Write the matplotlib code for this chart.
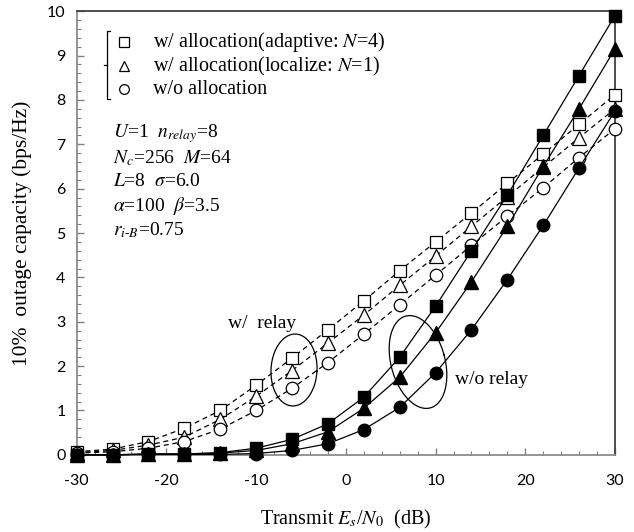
import numpy as np
import matplotlib
matplotlib.use("Agg")
import matplotlib.pyplot as plt
from matplotlib.ticker import MultipleLocator

plt.rcParams['mathtext.fontset'] = 'stix'
plt.rcParams['font.family'] = ['Liberation Serif', 'DejaVu Serif']
plt.rcParams['axes.unicode_minus'] = False

# transmit Es/N0 (dB)
snr = [-30, -26, -22, -18, -14, -10, -6, -2, 2, 6, 10, 14, 18, 22, 26, 30]

# w/o relay (solid lines, filled markers)
norelay_adaptive = [0.0, 0.0, 0.02, 0.02, 0.05, 0.15, 0.35, 0.7, 1.3, 2.2, 3.35, 4.6, 5.85, 7.2, 8.55, 9.9]
norelay_localize = [0.0, 0.0, 0.02, 0.02, 0.04, 0.1, 0.25, 0.52, 1.05, 1.75, 2.75, 3.9, 5.15, 6.5, 7.8, 9.15]
norelay_noalloc = [0.0, 0.0, 0.01, 0.01, 0.01, 0.03, 0.1, 0.25, 0.57, 1.07, 1.85, 2.82, 3.95, 5.17, 6.47, 7.75]

# w/ relay (dashed lines, open markers)
relay_adaptive = [0.07, 0.13, 0.3, 0.6, 1.0, 1.57, 2.18, 2.82, 3.47, 4.15, 4.8, 5.45, 6.12, 6.78, 7.45, 8.12]
relay_localize = [0.05, 0.1, 0.22, 0.4, 0.8, 1.32, 1.9, 2.52, 3.15, 3.82, 4.48, 5.15, 5.82, 6.48, 7.15, 7.8]
relay_noalloc = [0.04, 0.07, 0.15, 0.3, 0.58, 1.0, 1.5, 2.08, 2.72, 3.38, 4.05, 4.72, 5.38, 6.02, 6.7, 7.35]

legend_labels = [r'w/ allocation(adaptive: $N$=4)',
                 r'w/ allocation(localize: $N$=1)',
                 'w/o allocation']
param_lines = [r'$U$=1  $n_{relay}$=8',
               r'$N_c$=256  $M$=64',
               r'$L$=8  $\sigma$=6.0',
               r'$\alpha$=100  $\beta$=3.5',
               r'$r_{i\text{-}B}$=0.75']

fig = plt.figure(figsize=(6.34, 5.32), dpi=100)
ax = fig.add_axes([0.121, 0.145, 0.849, 0.834])

markers = ['s', '^', 'o']
sizes = [9, 9.5, 9]
for ys, m, ms in zip([relay_adaptive, relay_localize, relay_noalloc], markers, sizes):
    ax.plot(snr, ys, color='black', lw=0.9, ls=(0, (4, 3)), marker=m, ms=ms,
            mfc='white', mec='black', mew=0.9, clip_on=False, zorder=3)
for ys, m, ms in zip([norelay_noalloc, norelay_localize, norelay_adaptive], markers[::-1], sizes[::-1]):
    ax.plot(snr, ys, color='black', lw=0.9, marker=m, ms=ms,
            mfc='black', mec='black', clip_on=False, zorder=4)

ax.set_xlim(-30, 30)
ax.set_ylim(0, 10)
ax.xaxis.set_major_locator(MultipleLocator(10))
ax.xaxis.set_minor_locator(MultipleLocator(2))
ax.yaxis.set_major_locator(MultipleLocator(1))
ax.yaxis.set_minor_locator(MultipleLocator(0.2))
ax.tick_params(which='both', direction='in', colors='#808080', labelcolor='black',
               labelsize=11.5, pad=8)
ax.tick_params(which='major', length=5, width=1)
ax.tick_params(which='minor', length=3, width=0.8)
ax.tick_params(axis='x', pad=14)
for lab in ax.get_xticklabels() + ax.get_yticklabels():
    lab.set_family(['Lato', 'DejaVu Sans'])
ax.spines['left'].set_color('#8c8c8c')
ax.spines['bottom'].set_color('#8c8c8c')
ax.spines['top'].set_color('#404040')
ax.spines['right'].set_color('#404040')
for s in ax.spines.values():
    s.set_linewidth(1.3)

ax.set_xlabel(r'Transmit $E_s$/$N_0$  (dB)', fontsize=14.5, labelpad=14)
ax.set_ylabel('10%  outage capacity (bps/Hz)', fontsize=15.5, labelpad=11)

# legend block drawn in figure pixel terms
def px(x, y):
    # figure pixel -> figure fraction
    return x / 634.0, 1 - y / 532.0

leg_y = [42, 66, 89]
for yy, m, lab in zip(leg_y, markers, legend_labels):
    fx, fy = px(124, yy)
    fig.lines.append(plt.Line2D([fx], [fy], marker=m, ms=7, mfc='white', mec='black',
                                mew=0.9, transform=fig.transFigure))
    tx, ty = px(153, yy)
    fig.text(tx, ty, lab, fontsize=14.5, va='center', ha='left')
bx = [110, 107, 107, 110]
by = [31, 31, 99, 99]
fig.lines.append(plt.Line2D([b / 634 for b in bx], [1 - b / 532 for b in by],
                            color='black', lw=0.9, transform=fig.transFigure))
fig.lines.append(plt.Line2D([104 / 634, 107 / 634], [1 - 65 / 532] * 2,
                            color='black', lw=0.9, transform=fig.transFigure))

for i, line in enumerate(param_lines):
    tx, ty = px(113, 134 + 24 * i)
    fig.text(tx, ty, line, fontsize=14, va='center', ha='left')

fig.text(*px(228, 323), 'w/  relay', fontsize=14, va='center', ha='left')
fig.text(*px(455, 380), 'w/o relay', fontsize=14, va='center', ha='left')

# ellipses around curve groups (figure pixel space)
def ellipse(cx, cy, w, h, ang):
    t = np.linspace(0, 2 * np.pi, 200)
    a = np.deg2rad(ang)
    ex = w / 2 * np.cos(t)
    ey = h / 2 * np.sin(t)
    xx = cx + ex * np.cos(a) - ey * np.sin(a)
    yy = cy + ex * np.sin(a) + ey * np.cos(a)
    fig.lines.append(plt.Line2D(xx / 634, 1 - yy / 532, color='black', lw=0.9,
                                transform=fig.transFigure))

ellipse(294, 370, 46, 72, 3)
ellipse(418, 362, 54, 95, -15)

fig.savefig('out.png', dpi=100)
